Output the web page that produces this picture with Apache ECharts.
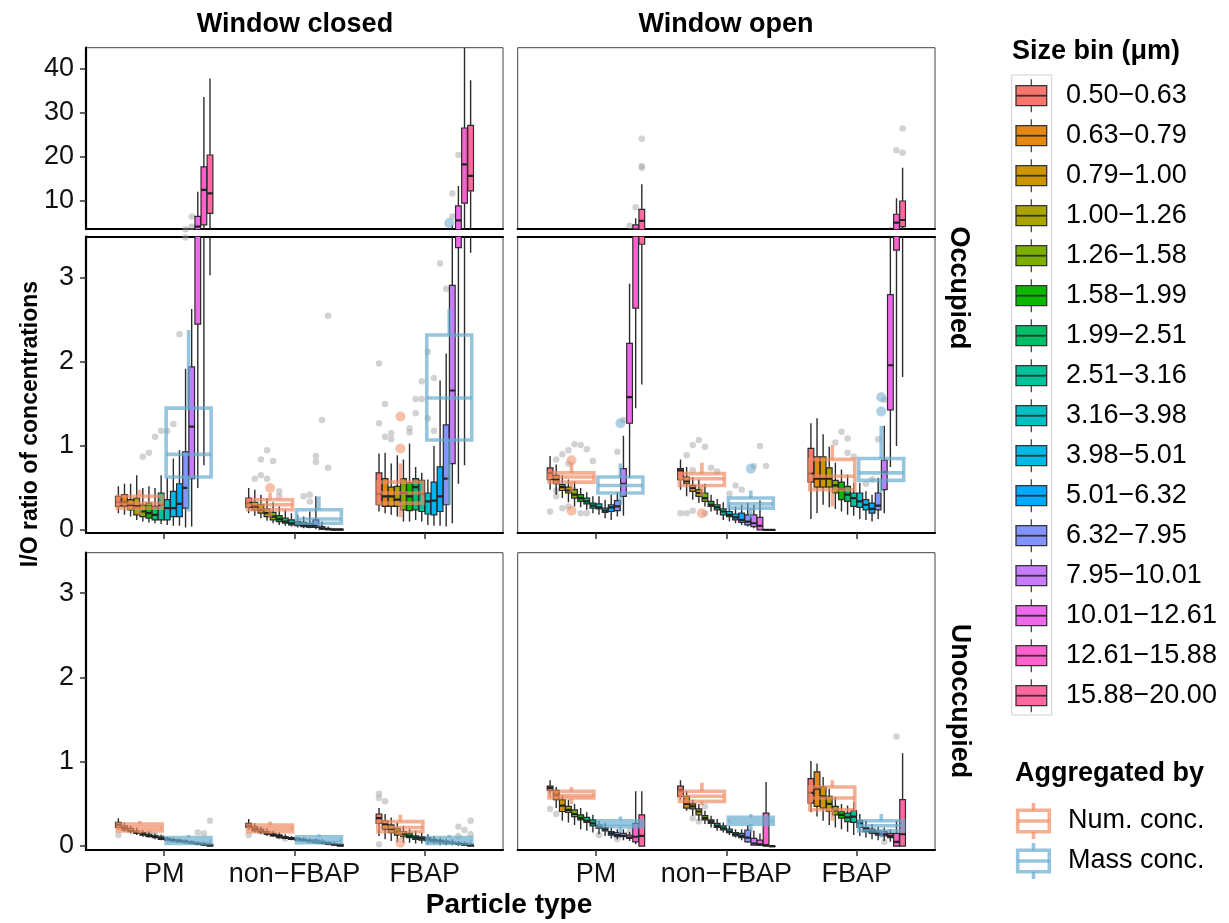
<!DOCTYPE html>
<html>
<head>
<meta charset="utf-8">
<script src="https://cdn.jsdelivr.net/npm/echarts@6/dist/echarts.min.js"></script>
<style>
html, body { margin: 0; padding: 0; background: #fff; }
#chart { width: 1229px; height: 923px; }
</style>
</head>
<body>
<div id="chart"></div>
<script>
const sizeBins = ['0.50−0.63', '0.63−0.79', '0.79−1.00', '1.00−1.26', '1.26−1.58', '1.58−1.99', '1.99−2.51', '2.51−3.16',
  '3.16−3.98', '3.98−5.01', '5.01−6.32', '6.32−7.95', '7.95−10.01', '10.01−12.61', '12.61−15.88', '15.88−20.00'];
const particleTypes = ['PM', 'non−FBAP', 'FBAP'];
const binColors = ['#F8766D', '#E68613', '#CD9600', '#ABA300', '#7CAE00', '#0CB702', '#00BE67', '#00C19A',
  '#00BFC4', '#00B8E7', '#00A9FF', '#8494FF', '#C77CFF', '#ED68ED', '#FF61CC', '#FF68A1'];
const aggNames = ['Num. conc.', 'Mass conc.'];
const aggColors = ['rgba(239,138,98,0.68)', 'rgba(103,169,207,0.68)'];

// box stats per size bin: [lower whisker, q1, median, q3, upper whisker]
// Occupied, window closed
const occClosedPM = [[0.20,0.28,0.33,0.40,0.52],[0.18,0.28,0.33,0.42,0.55],[0.16,0.24,0.30,0.36,0.55],[0.12,0.18,0.28,0.38,0.65],
  [0.10,0.16,0.22,0.30,0.50],[0.09,0.14,0.20,0.32,0.52],[0.08,0.12,0.18,0.28,0.50],[0.07,0.12,0.30,0.44,0.65],
  [0.06,0.12,0.26,0.36,0.62],[0.05,0.16,0.26,0.46,0.85],[0.05,0.16,0.31,0.55,0.95],[0.03,0.26,0.50,0.93,1.92],
  [0.04,0.61,1.23,1.94,2.63],[0.50,2.45,4.20,6.50,12.1],[0.77,4.60,12.5,17.7,33.5],[3.03,7.20,11.7,20.4,37.7]];
const occClosedNonFBAP = [[0.20,0.27,0.32,0.38,0.50],[0.17,0.24,0.28,0.33,0.48],[0.14,0.20,0.24,0.30,0.42],[0.11,0.16,0.20,0.25,0.38],
  [0.08,0.12,0.16,0.21,0.33],[0.06,0.10,0.13,0.17,0.28],[0.05,0.08,0.10,0.14,0.24],[0.04,0.06,0.08,0.12,0.20],
  [0.03,0.05,0.07,0.10,0.18],[0.02,0.04,0.06,0.09,0.16],[0.02,0.03,0.05,0.08,0.22],[0.01,0.03,0.05,0.12,0.40],
  [0.00,0.01,0.02,0.04,0.10],[0.00,0.005,0.01,0.02,0.04],[0.00,0.00,0.005,0.01,0.02],[0.00,0.00,0.005,0.01,0.02]];
const occClosedFBAP = [[0.22,0.30,0.43,0.68,0.91],[0.20,0.28,0.40,0.61,0.92],[0.18,0.28,0.40,0.51,0.79],[0.16,0.28,0.36,0.52,0.89],
  [0.10,0.24,0.44,0.61,0.84],[0.10,0.23,0.40,0.56,1.03],[0.12,0.24,0.51,0.61,0.75],[0.10,0.22,0.43,0.59,0.68],
  [0.06,0.19,0.34,0.44,0.60],[0.05,0.18,0.35,0.57,1.00],[0.05,0.22,0.40,0.75,1.78],[0.04,0.30,0.61,1.25,2.10],
  [0.08,0.79,1.66,2.91,4.50],[0.55,3.36,5.60,8.90,13.4],[0.77,9.50,18.3,26.5,46.0],[3.30,12.3,15.7,27.1,37.3]];
const occClosedNum = [[0.18,0.26,0.32,0.40,0.48],[0.15,0.24,0.30,0.36,0.44],[0.15,0.32,0.44,0.57,0.79]];
const occClosedMass = [[0.22,0.63,0.90,1.45,2.38],[0.04,0.08,0.13,0.24,0.40],[0.30,1.07,1.57,2.32,2.63]];
// outliers: [particle type index, size bin index, value]
const occClosedPoints = [[0,4,0.87],[0,5,0.92],[0,6,1.11],[0,7,1.18],[0,8,1.18],[0,9,1.26],[0,10,2.33],[0,11,3.48],
  [0,12,6.5],[0,12,4.2],[0,11,3.6],
  [1,1,0.61],[1,2,0.65],[1,2,0.84],[1,3,0.95],[1,3,0.61],[1,4,0.82],[1,5,0.46],[1,5,0.40],[1,9,0.40],[1,10,0.42],
  [1,10,0.34],[1,11,0.88],[1,11,0.81],[1,12,1.31],[1,13,0.74],[1,13,2.55],
  [2,0,1.98],[2,1,1.50],[2,0,1.27],[2,1,1.11],[2,2,1.15],[2,2,1.08],[2,5,1.21],[2,5,1.16],[2,6,1.56],[2,7,1.56],
  [2,6,1.39],[2,7,1.77],[2,8,2.12],[2,8,1.33],[2,9,1.81],[2,9,1.18],[2,10,3.17],[2,11,2.87],[2,12,11.7],[2,12,6.5],[2,13,20.4]];
// aggregated outliers: [particle type index, 0 = num / 1 = mass, value]
const occClosedAggPoints = [[1,0,0.50],[2,0,1.35],[2,0,0.97],[2,1,5.0]];

// Occupied, window open
const occOpenPM = [[0.48,0.60,0.68,0.74,0.88],[0.42,0.55,0.60,0.65,0.78],[0.38,0.47,0.51,0.54,0.65],[0.33,0.44,0.47,0.51,0.60],
  [0.28,0.38,0.42,0.48,0.58],[0.27,0.34,0.38,0.42,0.50],[0.24,0.31,0.34,0.38,0.45],[0.20,0.26,0.29,0.32,0.40],
  [0.18,0.25,0.27,0.31,0.40],[0.14,0.21,0.23,0.26,0.36],[0.12,0.22,0.27,0.30,0.42],[0.16,0.23,0.28,0.35,0.45],
  [0.17,0.40,0.55,0.73,1.12],[0.62,1.27,1.58,2.22,2.93],[1.45,2.64,3.60,4.60,6.10],[1.73,3.40,5.50,8.10,13.8]];
const occOpenNonFBAP = [[0.48,0.60,0.71,0.73,0.84],[0.40,0.55,0.58,0.63,0.75],[0.36,0.46,0.50,0.53,0.63],[0.32,0.40,0.44,0.48,0.60],
  [0.28,0.34,0.38,0.44,0.55],[0.22,0.28,0.30,0.34,0.42],[0.18,0.24,0.27,0.30,0.37],[0.12,0.18,0.22,0.25,0.33],
  [0.10,0.16,0.18,0.22,0.30],[0.08,0.12,0.15,0.19,0.28],[0.06,0.09,0.12,0.20,0.30],[0.04,0.06,0.10,0.18,0.32],
  [0.02,0.04,0.08,0.18,0.30],[0.00,0.00,0.05,0.15,0.35],[0.00,0.00,0.00,0.005,0.01],[0.00,0.00,0.00,0.005,0.01]];
const occOpenFBAP = [[0.13,0.57,0.67,0.97,1.27],[0.20,0.51,0.61,0.87,1.33],[0.30,0.51,0.61,0.87,1.14],[0.27,0.51,0.61,0.74,0.99],
  [0.25,0.44,0.53,0.59,0.80],[0.22,0.36,0.49,0.57,0.72],[0.18,0.34,0.42,0.52,0.66],[0.17,0.28,0.38,0.44,0.56],
  [0.13,0.27,0.34,0.44,0.56],[0.12,0.24,0.30,0.36,0.46],[0.10,0.20,0.25,0.32,0.42],[0.13,0.24,0.29,0.44,0.62],
  [0.20,0.48,0.69,0.83,1.24],[0.75,1.43,1.96,2.80,4.00],[1.00,3.33,5.10,7.00,10.6],[1.82,4.20,5.70,10.0,17.5]];
const occOpenNum = [[0.45,0.57,0.63,0.68,0.80],[0.40,0.53,0.61,0.67,0.80],[0.28,0.48,0.64,0.84,1.01]];
const occOpenMass = [[0.30,0.44,0.53,0.63,0.79],[0.14,0.26,0.31,0.38,0.47],[0.45,0.59,0.68,0.85,1.24]];
const occOpenPoints = [[0,0,0.22],[0,1,0.84],[0,1,0.40],[0,1,0.47],[0,2,0.90],[0,2,0.26],[0,3,0.95],[0,3,0.28],[0,3,0.79],
  [0,4,1.02],[0,4,0.47],[0,5,1.01],[0,5,0.20],[0,6,0.96],[0,6,0.20],[0,7,0.82],[0,11,0.93],[0,12,1.31],
  [0,15,24.1],[0,15,17.9],[0,15,17.5],[0,14,8.6],[0,13,4.4],
  [1,0,0.20],[1,1,0.89],[1,1,0.20],[1,2,1.01],[1,2,0.23],[1,2,0.71],[1,3,1.07],[1,4,0.99],[1,4,0.20],[1,5,0.74],
  [1,6,0.70],[1,8,0.43],[1,9,0.53],[1,10,0.48],[1,12,0.76],[1,13,1.00],[1,14,0.76],
  [2,4,1.04],[2,5,1.17],[2,6,1.09],[2,6,0.92],[2,7,0.87],[2,9,0.55],[2,10,0.60],[2,11,1.08],[2,12,1.55],
  [2,15,26.4],[2,14,21.5],[2,15,20.9]];
const occOpenAggPoints = [[0,0,0.83],[0,0,0.23],[0,1,1.27],[1,0,0.20],[1,1,0.73],[2,1,1.41],[2,1,1.58]];

// Unoccupied, window closed
const unoccClosedPM = [[0.20,0.22,0.25,0.28,0.33],[0.17,0.19,0.21,0.24,0.28],[0.15,0.17,0.18,0.21,0.24],[0.13,0.15,0.16,0.18,0.22],
  [0.11,0.13,0.14,0.16,0.19],[0.10,0.11,0.12,0.14,0.17],[0.08,0.10,0.11,0.12,0.15],[0.07,0.08,0.09,0.11,0.13],
  [0.06,0.07,0.08,0.09,0.11],[0.05,0.06,0.07,0.08,0.10],[0.04,0.05,0.06,0.07,0.09],[0.03,0.04,0.05,0.06,0.08],
  [0.02,0.03,0.04,0.05,0.07],[0.01,0.02,0.03,0.04,0.06],[0.00,0.01,0.02,0.03,0.05],[0.00,0.00,0.01,0.02,0.04]];
const unoccClosedNonFBAP = [[0.19,0.22,0.24,0.27,0.32],[0.16,0.18,0.20,0.23,0.27],[0.14,0.16,0.18,0.20,0.23],[0.12,0.14,0.15,0.17,0.21],
  [0.11,0.12,0.13,0.15,0.18],[0.09,0.10,0.12,0.13,0.16],[0.08,0.09,0.10,0.11,0.14],[0.07,0.08,0.09,0.10,0.12],
  [0.06,0.07,0.08,0.09,0.11],[0.05,0.06,0.07,0.08,0.10],[0.04,0.05,0.06,0.07,0.09],[0.03,0.04,0.05,0.07,0.09],
  [0.02,0.03,0.04,0.06,0.08],[0.01,0.02,0.03,0.04,0.06],[0.00,0.01,0.02,0.03,0.05],[0.00,0.00,0.01,0.02,0.03]];
const unoccClosedFBAP = [[0.12,0.27,0.33,0.38,0.45],[0.08,0.20,0.26,0.30,0.38],[0.06,0.16,0.20,0.25,0.34],[0.05,0.13,0.17,0.21,0.28],
  [0.04,0.11,0.14,0.17,0.24],[0.04,0.10,0.12,0.15,0.20],[0.03,0.08,0.10,0.12,0.18],[0.03,0.07,0.09,0.11,0.16],
  [0.02,0.06,0.08,0.10,0.14],[0.02,0.05,0.07,0.08,0.12],[0.01,0.04,0.06,0.07,0.10],[0.01,0.03,0.05,0.06,0.09],
  [0.01,0.03,0.04,0.05,0.08],[0.00,0.02,0.03,0.04,0.06],[0.00,0.01,0.02,0.03,0.05],[0.00,0.00,0.01,0.02,0.04]];
const unoccClosedNum = [[0.15,0.18,0.22,0.26,0.30],[0.15,0.17,0.21,0.25,0.29],[0.12,0.17,0.22,0.29,0.37]];
const unoccClosedMass = [[0.02,0.03,0.06,0.10,0.13],[0.02,0.04,0.07,0.11,0.14],[0.02,0.03,0.06,0.10,0.13]];
const unoccClosedPoints = [[0,0,0.13],[0,5,0.15],[0,6,0.13],[0,7,0.11],[0,13,0.16],[0,14,0.15],[0,15,0.30],
  [1,0,0.13],[1,5,0.12],[1,6,0.09],
  [2,0,0.62],[2,0,0.57],[2,1,0.53],[2,0,0.02],[2,13,0.23],[2,14,0.19],[2,15,0.30],[2,15,0.14],[2,13,0.12]];
const unoccClosedAggPoints = [[2,0,0.04]];

// Unoccupied, window open
const unoccOpenPM = [[0.62,0.66,0.69,0.71,0.78],[0.45,0.55,0.60,0.66,0.70],[0.30,0.41,0.48,0.55,0.60],[0.28,0.40,0.43,0.47,0.55],
  [0.25,0.35,0.38,0.43,0.50],[0.20,0.31,0.33,0.37,0.45],[0.18,0.28,0.30,0.34,0.40],[0.16,0.24,0.27,0.31,0.37],
  [0.14,0.21,0.23,0.25,0.30],[0.12,0.18,0.20,0.22,0.27],[0.09,0.13,0.15,0.17,0.22],[0.08,0.11,0.13,0.16,0.20],
  [0.07,0.11,0.12,0.15,0.20],[0.06,0.09,0.10,0.13,0.17],[0.02,0.05,0.11,0.27,0.65],[0.00,0.00,0.12,0.37,0.65]];
const unoccOpenNonFBAP = [[0.55,0.59,0.66,0.71,0.78],[0.42,0.45,0.50,0.59,0.65],[0.36,0.44,0.47,0.50,0.55],[0.30,0.37,0.41,0.44,0.50],
  [0.26,0.31,0.33,0.36,0.42],[0.22,0.27,0.29,0.31,0.36],[0.18,0.22,0.24,0.27,0.32],[0.16,0.19,0.21,0.24,0.28],
  [0.13,0.16,0.17,0.20,0.24],[0.10,0.12,0.14,0.16,0.20],[0.07,0.10,0.12,0.15,0.20],[0.04,0.05,0.10,0.19,0.25],
  [0.01,0.01,0.03,0.09,0.18],[0.00,0.01,0.02,0.07,0.15],[0.00,0.00,0.01,0.39,0.76],[0.00,0.00,0.00,0.00,0.01]];
const unoccOpenFBAP = [[0.40,0.51,0.63,0.80,1.01],[0.35,0.47,0.68,0.88,0.98],[0.30,0.45,0.59,0.70,0.82],[0.25,0.41,0.50,0.59,0.68],
  [0.22,0.37,0.42,0.47,0.58],[0.20,0.33,0.37,0.41,0.50],[0.17,0.29,0.34,0.39,0.48],[0.13,0.28,0.35,0.42,0.52],
  [0.12,0.22,0.27,0.30,0.38],[0.10,0.17,0.20,0.22,0.30],[0.08,0.15,0.17,0.20,0.26],[0.07,0.13,0.15,0.18,0.23],
  [0.06,0.12,0.14,0.17,0.22],[0.05,0.10,0.12,0.15,0.20],[0.00,0.00,0.05,0.15,0.30],[0.00,0.00,0.14,0.55,1.10]];
const unoccOpenNum = [[0.50,0.57,0.60,0.65,0.70],[0.48,0.53,0.59,0.65,0.75],[0.30,0.43,0.57,0.70,0.78]];
const unoccOpenMass = [[0.15,0.23,0.26,0.30,0.35],[0.16,0.26,0.30,0.34,0.38],[0.10,0.18,0.24,0.30,0.38]];
const unoccOpenPoints = [[0,0,0.44],[0,1,0.38],[0,8,0.13],[0,11,0.08],[0,13,0.18],
  [1,2,0.33],[1,3,0.29],[1,4,0.47],
  [2,14,1.30],[2,12,0.05]];
const unoccOpenAggPoints = [];

const yTicksHigh = [10, 20, 30, 40];
const yTicksLow = [0, 1, 2, 3];

const FONT = '"Liberation Sans", Arial, sans-serif';
const binSlot = 0.75 / sizeBins.length;
const binX = (c, i) => c + 1 - 0.375 + (i + 0.5) * binSlot;
const aggX = (c, k) => c + 1 + (k === 0 ? -0.1875 : 0.1875);

// panel layout: [left, top, width, height] and y range
const gridBoxes = [
  [86, 47.7, 417, 181.5], [86, 236.7, 417, 296.3], [86, 552.7, 417, 297.3],
  [517.7, 47.7, 417.3, 181.5], [517.7, 236.7, 417.3, 296.3], [517.7, 552.7, 417.3, 297.3]
];
const yRanges = [[3.62, 44.66], [-0.036, 3.49], [-0.047, 3.48], [3.62, 44.66], [-0.036, 3.49], [-0.047, 3.48]];

const facets = [
  { grids: [0, 1], boxes: [occClosedPM, occClosedNonFBAP, occClosedFBAP], num: occClosedNum, mass: occClosedMass, pts: occClosedPoints, aggPts: occClosedAggPoints },
  { grids: [2], boxes: [unoccClosedPM, unoccClosedNonFBAP, unoccClosedFBAP], num: unoccClosedNum, mass: unoccClosedMass, pts: unoccClosedPoints, aggPts: unoccClosedAggPoints },
  { grids: [3, 4], boxes: [occOpenPM, occOpenNonFBAP, occOpenFBAP], num: occOpenNum, mass: occOpenMass, pts: occOpenPoints, aggPts: occOpenAggPoints },
  { grids: [5], boxes: [unoccOpenPM, unoccOpenNonFBAP, unoccOpenFBAP], num: unoccOpenNum, mass: unoccOpenMass, pts: unoccOpenPoints, aggPts: unoccOpenAggPoints }
];

function renderBox(widthUnits, agg) {
  return function (params, api) {
    const x = api.value(0);
    const lo = api.coord([x, api.value(1)]);
    const q1 = api.coord([x, api.value(2)]);
    const med = api.coord([x, api.value(3)]);
    const q3 = api.coord([x, api.value(4)]);
    const hi = api.coord([x, api.value(5)]);
    const w = api.size([widthUnits, 0])[0];
    const k = api.value(6);
    const stroke = agg ? aggColors[k] : '#2b2b2b';
    const lw = agg ? 3.6 : 1.4;
    return {
      type: 'group',
      children: [
        { type: 'line', shape: { x1: lo[0], y1: lo[1], x2: q1[0], y2: q1[1] }, style: { stroke: stroke, lineWidth: lw } },
        { type: 'line', shape: { x1: q3[0], y1: q3[1], x2: hi[0], y2: hi[1] }, style: { stroke: stroke, lineWidth: lw } },
        { type: 'rect', shape: { x: q1[0] - w / 2, y: q3[1], width: w, height: Math.max(q1[1] - q3[1], 0.5) },
          style: { fill: agg ? 'none' : binColors[k], stroke: stroke, lineWidth: agg ? 3.6 : 1.2 } },
        { type: 'line', shape: { x1: med[0] - w / 2, y1: med[1], x2: med[0] + w / 2, y2: med[1] },
          style: { stroke: agg ? aggColors[k] : '#222', lineWidth: agg ? 3.6 : 2.2 } }
      ]
    };
  };
}

const series = [];
facets.forEach(f => {
  const binData = [];
  f.boxes.forEach((rows, c) => rows.forEach((b, i) => binData.push([binX(c, i), ...b, i])));
  const aggData = [];
  [0, 1, 2].forEach(c => {
    aggData.push([aggX(c, 0), ...f.num[c], 0]);
    aggData.push([aggX(c, 1), ...f.mass[c], 1]);
  });
  const ptData = f.pts.map(p => [binX(p[0], p[1]), p[2]]);
  const aggPtData = f.aggPts.map(p => ({ value: [aggX(p[0], p[1]), p[2]], itemStyle: { color: aggColors[p[1]] } }));
  f.grids.forEach(g => {
    series.push({ type: 'scatter', xAxisIndex: g, yAxisIndex: g, data: ptData, symbolSize: 6.5, z: 1, clip: true,
      itemStyle: { color: 'rgba(160,160,160,0.6)' } });
    series.push({ type: 'custom', xAxisIndex: g, yAxisIndex: g, data: binData, clip: true, z: 2,
      renderItem: renderBox(binSlot * 0.94, false) });
    series.push({ type: 'custom', xAxisIndex: g, yAxisIndex: g, data: aggData, clip: true, z: 3,
      renderItem: renderBox(0.345, true) });
    series.push({ type: 'scatter', xAxisIndex: g, yAxisIndex: g, data: aggPtData, symbolSize: 10, z: 3, clip: true });
  });
});

const grid = gridBoxes.map(b => ({ left: b[0], top: b[1], width: b[2], height: b[3], show: true,
  borderColor: '#444', borderWidth: 1, backgroundColor: 'transparent' }));

const xAxis = gridBoxes.map((b, g) => ({
  type: 'value', gridIndex: g, min: 0.4, max: 3.6,
  axisLine: { show: true, onZero: false, lineStyle: { color: '#000', width: 2.2 } },
  splitLine: { show: false },
  axisTick: { show: g % 3 !== 0, customValues: [1, 2, 3], length: 6, lineStyle: { color: '#333', width: 1.5 } },
  axisLabel: { show: g % 3 === 2, customValues: [1, 2, 3], formatter: v => particleTypes[Math.round(v) - 1],
    fontSize: 27, fontFamily: FONT, color: '#111', margin: 11 }
}));
[1, 4].forEach(g => xAxis.push({
  type: 'value', gridIndex: g, position: 'top', min: 0.4, max: 3.6,
  axisLine: { show: true, onZero: false, lineStyle: { color: '#000', width: 2.2 } },
  splitLine: { show: false }, axisTick: { show: false }, axisLabel: { show: false }
}));

const yAxis = gridBoxes.map((b, g) => {
  const ticks = g % 3 === 0 ? yTicksHigh : yTicksLow;
  const left = g < 3;
  return {
    type: 'value', gridIndex: g, min: yRanges[g][0], max: yRanges[g][1],
    axisLine: { show: left, onZero: false, lineStyle: { color: '#000', width: 2.2 } },
    splitLine: { show: false },
    axisTick: { show: left, customValues: ticks, length: 6, lineStyle: { color: '#333', width: 1.5 } },
    axisLabel: { show: left, customValues: ticks, fontSize: 27, fontFamily: FONT, color: '#111', margin: 12 }
  };
});

function txt(text, x, y, size, bold, opts) {
  return Object.assign({
    type: 'text', x: x, y: y, silent: true,
    style: { text: text, fill: '#000', fontSize: size, fontWeight: bold ? 'bold' : 'normal', fontFamily: FONT,
      align: 'center', verticalAlign: 'middle', textAlign: 'center', textVerticalAlign: 'middle' }
  }, opts || {});
}
function txtLeft(text, x, y, size, bold) {
  const t = txt(text, x, y, size, bold);
  t.style.align = 'left'; t.style.textAlign = 'left';
  return t;
}

const graphic = [
  txt('Window closed', 295, 25, 27, true),
  txt('Window open', 726, 25, 27, true),
  txt('Occupied', 958, 288, 27, true, { rotation: -Math.PI / 2 }),
  txt('Unoccupied', 959, 701, 27, true, { rotation: -Math.PI / 2 }),
  txt('I/O ratio of concentrations', 31, 424, 23, true, { rotation: Math.PI / 2 }),
  txt('Particle type', 509, 905, 28, true),
  txtLeft('Size bin (μm)', 1012, 52, 27, true),
  { type: 'rect', shape: { x: 1011.7, y: 75, width: 40, height: 640 }, style: { fill: 'none', stroke: '#cfcfcf', lineWidth: 1 } },
  txtLeft('Aggregated by', 1015, 774, 27, true)
];
sizeBins.forEach((label, i) => {
  const yc = 95.7 + i * 40;
  graphic.push({ type: 'line', shape: { x1: 1031.3, y1: yc - 16.5, x2: 1031.3, y2: yc + 16.5 }, style: { stroke: '#444', lineWidth: 1.3 } });
  graphic.push({ type: 'rect', shape: { x: 1016, y: yc - 10, width: 30.7, height: 20 }, style: { fill: binColors[i], stroke: '#333', lineWidth: 1.3 } });
  graphic.push({ type: 'line', shape: { x1: 1016, y1: yc, x2: 1046.7, y2: yc }, style: { stroke: '#333', lineWidth: 1.8 } });
  graphic.push(txtLeft(label, 1066, yc, 27, false));
});
aggNames.forEach((label, k) => {
  const yc = 821 + k * 40;
  graphic.push({ type: 'line', shape: { x1: 1033.5, y1: yc - 18, x2: 1033.5, y2: yc + 18 }, style: { stroke: aggColors[k], lineWidth: 3.6 } });
  graphic.push({ type: 'rect', shape: { x: 1017.7, y: yc - 10.8, width: 31.6, height: 21.6 }, style: { fill: '#fff', stroke: aggColors[k], lineWidth: 3.6 } });
  graphic.push({ type: 'line', shape: { x1: 1017.7, y1: yc, x2: 1049.3, y2: yc }, style: { stroke: aggColors[k], lineWidth: 3.6 } });
  graphic.push(txtLeft(label, 1068, yc, 27, false));
});

const chart = echarts.init(document.getElementById('chart'), null, { renderer: 'canvas' });
chart.setOption({
  animation: false,
  backgroundColor: '#fff',
  grid: grid,
  xAxis: xAxis,
  yAxis: yAxis,
  series: series,
  graphic: graphic
});
</script>
</body>
</html>
